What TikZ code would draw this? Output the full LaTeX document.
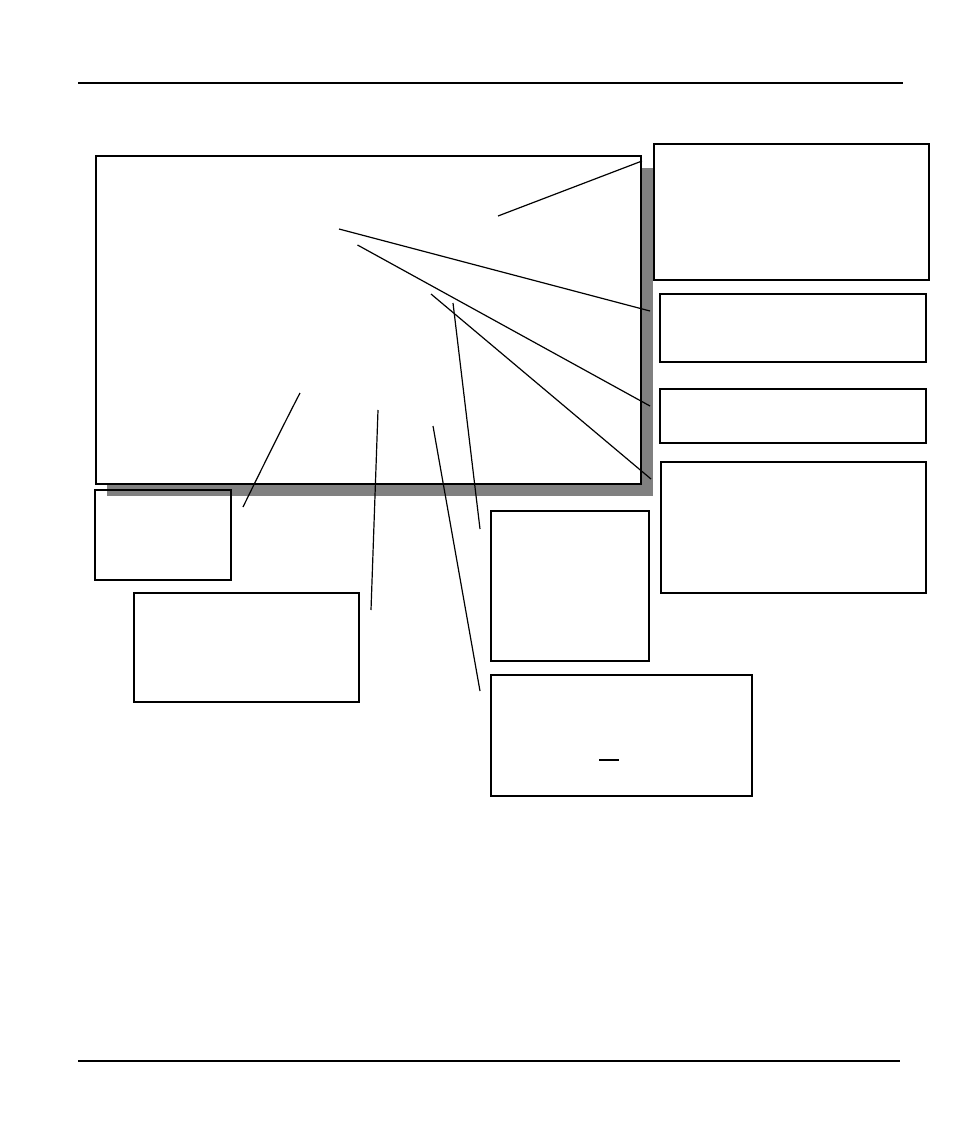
\documentclass[tikz,border=0pt]{standalone}
\begin{document}
\begin{tikzpicture}[x=1pt,y=-1pt,
  box/.style={draw=black,line width=1.1pt,fill=white,inner sep=0pt,outer sep=0pt},
  lead/.style={draw=black,line width=1.2pt},
  rule/.style={draw=black,line width=1.1pt}]
\useasboundingbox (0,0) rectangle (954,1132);
% rules
\coordinate (t1) at (78,83); \coordinate (t2) at (903,83);
\coordinate (b1) at (78,1061); \coordinate (b2) at (900,1061);
\draw[rule] (t1) -- (t2);
\draw[rule] (b1) -- (b2);
% main screen with shadow
\fill[black!50] (107,168) rectangle (653,496);
\node[box,minimum width=545pt,minimum height=328pt] (main) at (368.5,320) {};
% callout boxes
\node[box,minimum width=275pt,minimum height=136pt] (ba) at (791.5,212) {};
\node[box,minimum width=266pt,minimum height=68pt] (bb) at (793,328) {};
\node[box,minimum width=266pt,minimum height=54pt] (bc) at (793,416) {};
\node[box,minimum width=265pt,minimum height=131pt] (bd) at (793.5,527.5) {};
\node[box,fill=none,minimum width=136pt,minimum height=90pt] (be) at (163,535) {};
\node[box,minimum width=225pt,minimum height=109pt] (bf) at (246.5,647.5) {};
\node[box,minimum width=158pt,minimum height=150pt] (bg) at (570,586) {};
\node[box,minimum width=261pt,minimum height=121pt] (bh) at (621.5,735.5) {};
\coordinate (u1) at (599,760); \coordinate (u2) at (619,760);
\draw[lead] (u1) -- (u2);
% leader lines
\coordinate (s1) at (498,216); \coordinate (e1) at (642,161);
\coordinate (s2) at (339,229); \coordinate (e2) at (650,311);
\coordinate (s3) at (357.5,245); \coordinate (e3) at (650,406);
\coordinate (s4) at (431,294); \coordinate (e4) at (651,479);
\coordinate (s5) at (453,303); \coordinate (e5) at (480,529);
\coordinate (s6) at (300,393); \coordinate (e6) at (243,507);
\coordinate (s7) at (378,410); \coordinate (e7) at (371,610);
\coordinate (s8) at (433,426); \coordinate (e8) at (480,691);
\draw[lead] (s1) -- (e1);
\draw[lead] (s2) -- (e2);
\draw[lead] (s3) -- (e3);
\draw[lead] (s4) -- (e4);
\draw[lead] (s5) -- (e5);
\draw[lead] (s6) .. controls (290,412) and (262,468) .. (e6);
\draw[lead] (s7) -- (e7);
\draw[lead] (s8) -- (e8);
\end{tikzpicture}
\end{document}
